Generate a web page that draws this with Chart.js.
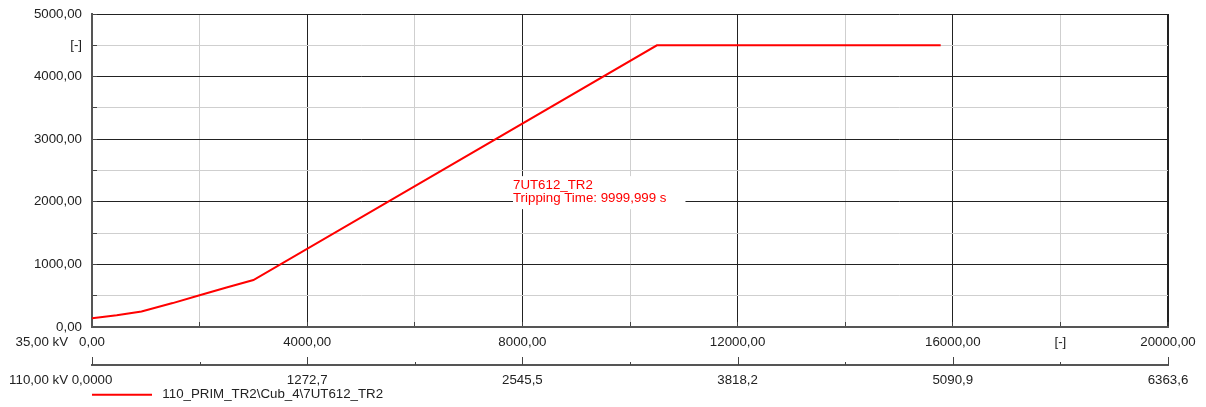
<!DOCTYPE html>
<html>
<head>
<meta charset="utf-8">
<script src="https://cdn.jsdelivr.net/npm/chart.js@4.4.0/dist/chart.umd.min.js"></script>
<style>
html, body { margin: 0; padding: 0; background: #fff; }
#wrap { width: 1206px; height: 407px; }
</style>
</head>
<body>
<div id="wrap"><canvas id="relayChart"></canvas></div>
<script>
// tripping characteristic
var curveX = [0, 460, 920, 1500, 2000, 2500, 3000, 10500, 15775];
var curveY = [140, 188, 248, 382, 508, 630, 750, 4500, 4500];

var xTicks = [0, 2000, 4000, 6000, 8000, 10000, 12000, 14000, 16000, 18000, 20000];
var xLabels35 = ["0,00", "", "4000,00", "", "8000,00", "", "12000,00", "", "16000,00", "[-]", "20000,00"];
var xLabels110 = ["0,0000", "", "1272,7", "", "2545,5", "", "3818,2", "", "5090,9", "", "6363,6"];
var yTicks = [0, 500, 1000, 1500, 2000, 2500, 3000, 3500, 4000, 4500, 5000];
var yLabels = ["0,00", "", "1000,00", "", "2000,00", "", "3000,00", "", "4000,00", "[-]", "5000,00"];

var seriesName = "110_PRIM_TR2\\Cub_4\\7UT612_TR2";
var axisTitle35 = "35,00 kV";
var axisTitle110 = "110,00 kV";
var noteLines = ["7UT612_TR2", "Tripping Time: 9999,999 s"];
var noteAt = [7825, 2410];

var FONT = '"Liberation Sans", Arial, sans-serif';
var TXT = "#222";
var MAJOR = "#222";
var MINOR = "#cfcfcf";

Chart.defaults.font.family = FONT;
Chart.defaults.font.size = 13.3;
Chart.defaults.color = TXT;

var points = curveX.map(function(x, i) { return {x: x, y: curveY[i]}; });

// keep label overhang from pushing the plot area around
function noOverhang(s)
{
    s.paddingTop = 0;
    s.paddingBottom = 0;
    s.paddingLeft = 0;
    s.paddingRight = 0;
}

// extra texts, the 110 kV tick marks and the relay note
var extras = {
    id: "extras",
    beforeDatasetsDraw: function(chart)
    {
        var ctx = chart.ctx;
        var sx = chart.scales.x, sx2 = chart.scales.x2, sy = chart.scales.y;
        ctx.save();

        ctx.strokeStyle = "#444";
        ctx.lineWidth = 1;
        sx2.ticks.forEach(function(t) {
            var px = Math.round(sx2.getPixelForValue(t.value)) + 0.5;
            var len = t.value % 4000 === 0 ? 8 : 3;
            ctx.beginPath();
            ctx.moveTo(px, sx2.top);
            ctx.lineTo(px, sx2.top - len);
            ctx.stroke();
        });

        ctx.font = "13.3px " + FONT;
        ctx.fillStyle = TXT;
        ctx.textAlign = "right";
        ctx.textBaseline = "middle";
        ctx.fillText(axisTitle35, sx.left - 24, sx.top + 15);
        ctx.fillText(axisTitle110, sx2.left - 24, sx2.top + 15);

        var nx = sx.getPixelForValue(noteAt[0]);
        var ny = sy.getPixelForValue(noteAt[1]);
        var w = 0;
        noteLines.forEach(function(s) { w = Math.max(w, ctx.measureText(s).width); });
        ctx.fillStyle = "#fff";
        ctx.fillRect(nx, ny, w + 19, 33);
        ctx.fillStyle = "#ff0000";
        ctx.textAlign = "left";
        ctx.fillText(noteLines[0], nx, ny + 9);
        ctx.fillText(noteLines[1], nx, ny + 22.3);

        ctx.restore();
    }
};

new Chart(document.getElementById("relayChart"), {
    type: "line",
    data: {
        datasets: [{
            label: seriesName,
            data: points,
            borderColor: "#ff0000",
            backgroundColor: "#ff0000",
            borderWidth: 2,
            pointRadius: 0,
            tension: 0,
            fill: false
        }]
    },
    options: {
        responsive: true,
        maintainAspectRatio: false,
        animation: false,
        layout: { padding: { top: 14, right: 38, bottom: 0, left: 0 } },
        plugins: {
            tooltip: { enabled: false },
            legend: {
                position: "bottom",
                align: "start",
                fullSize: false,
                maxHeight: 19,
                labels: {
                    padding: 0,
                    usePointStyle: true,
                    pointStyle: "line",
                    pointStyleWidth: 60,
                    color: TXT,
                    font: { size: 13.3 },
                    generateLabels: function(chart) {
                        return Chart.defaults.plugins.legend.labels.generateLabels(chart).map(function(l) {
                            l.text = " " + l.text;
                            return l;
                        });
                    }
                }
            }
        },
        scales: {
            x: {
                type: "linear",
                position: "bottom",
                min: 0,
                max: 20000,
                afterBuildTicks: function(s) { s.ticks = xTicks.map(function(v) { return {value: v}; }); },
                afterFit: function(s) { s.height = 38; noOverhang(s); },
                ticks: {
                    autoSkip: false,
                    maxRotation: 0,
                    padding: 12,
                    callback: function(v, i) { return xLabels35[i]; }
                },
                grid: {
                    color: function(c) { return c.tick && c.tick.value % 4000 === 0 ? MAJOR : MINOR; },
                    lineWidth: function(c) { return c.tick && c.tick.value === 20000 ? 2 : 1; },
                    tickLength: -5,
                    tickColor: "#444",
                    tickWidth: 1
                },
                border: { display: true, color: "#555", width: 2 }
            },
            x2: {
                type: "linear",
                axis: "x",
                position: "bottom",
                weight: 1,
                min: 0,
                max: 20000,
                afterBuildTicks: function(s) { s.ticks = xTicks.map(function(v) { return {value: v}; }); },
                afterFit: function(s) { s.height = 23; noOverhang(s); },
                ticks: {
                    autoSkip: false,
                    maxRotation: 0,
                    padding: 7,
                    callback: function(v, i) { return xLabels110[i]; }
                },
                grid: { display: true, drawOnChartArea: false, drawTicks: false },
                border: { display: true, color: "#555", width: 2 }
            },
            y: {
                type: "linear",
                position: "left",
                min: 0,
                max: 5000,
                afterBuildTicks: function(s) { s.ticks = yTicks.map(function(v) { return {value: v}; }); },
                afterFit: function(s) { s.width = 92; noOverhang(s); },
                ticks: {
                    autoSkip: false,
                    padding: 15,
                    callback: function(v, i) { return yLabels[i]; }
                },
                grid: {
                    color: function(c) { return c.tick && c.tick.value % 1000 === 0 ? MAJOR : MINOR; },
                    tickLength: -5,
                    tickColor: "#444",
                    tickWidth: 1
                },
                border: { display: true, color: "#555", width: 2 }
            }
        }
    },
    plugins: [extras]
});
</script>
</body>
</html>
